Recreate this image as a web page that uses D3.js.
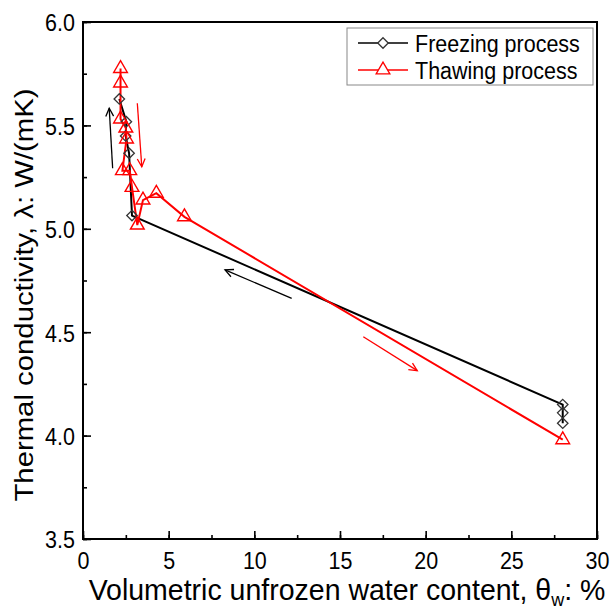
<!DOCTYPE html>
<html><head><meta charset="utf-8">
<script src="https://cdn.jsdelivr.net/npm/d3@7"></script>
<style>body{margin:0;background:#fff}svg{display:block}text{font-family:Arial,"Liberation Sans",sans-serif}</style>
</head><body><svg id="c" width="611" height="612"></svg>
<script>
const freezeX = [28, 28, 28, 2.86, 2.69, 2.49, 2.53, 2.12];
const freezeY = [4.06, 4.11, 4.15, 5.064, 5.365, 5.449, 5.518, 5.628];
const thawX = [2.19, 2.19, 2.19, 2.50, 2.54, 2.30, 2.73, 2.86, 3.17, 3.50, 4.28, 5.92, 28.0];
const thawY = [5.775, 5.705, 5.531, 5.487, 5.434, 5.281, 5.281, 5.20, 5.018, 5.139, 5.172, 5.058, 3.98];
const xTicks = [0, 5, 10, 15, 20, 25, 30];
const yTicks = [3.5, 4.0, 4.5, 5.0, 5.5, 6.0];
// arrows: [x1,y1,x2,y2] in data units, head at (x2,y2)
const arrowsBlack = [[1.73, 5.293, 1.53, 5.583], [12.18, 4.664, 8.29, 4.801]];
const arrowsRed = [[3.17, 5.607, 3.43, 5.300], [16.36, 4.478, 19.51, 4.314]];

const svg = d3.select("#c");
const L = 83, R = 597, T = 22, B = 539;
const SY = 1.15; // vertical text stretch seen in reference
const x = d3.scaleLinear().domain([0, 30]).range([L, R]);
const y = d3.scaleLinear().domain([3.5, 6]).range([B, T]);

const xMinor = d3.range(0, 30.01, 2.5);
const yMinor = d3.range(3.5, 6.01, 0.25);
const gx = svg.append("g").attr("transform", `translate(0,${B})`)
  .call(d3.axisBottom(x).tickValues(xMinor).tickSize(-4).tickFormat(""));
const gx2 = svg.append("g").attr("transform", `translate(0,${B})`)
  .call(d3.axisBottom(x).tickValues(xTicks).tickSize(-8).tickPadding(12).tickFormat(d3.format("d")));
const gy = svg.append("g").attr("transform", `translate(${L},0)`)
  .call(d3.axisLeft(y).tickValues(yMinor).tickSize(-4).tickFormat(""));
const gy2 = svg.append("g").attr("transform", `translate(${L},0)`)
  .call(d3.axisLeft(y).tickValues(yTicks).tickSize(-8).tickPadding(8).tickFormat(d3.format(".1f")));
[gx, gx2, gy, gy2].forEach(g => {
  g.select(".domain").remove();
  g.selectAll("line").attr("stroke", "#000").attr("stroke-width", 1.6);
  g.selectAll("text").attr("font-size", 21.5).attr("fill", "#000")
    .style("font-family", 'Arial,"Liberation Sans",sans-serif');
});
gx2.selectAll("text").each(function () {
  const t = d3.select(this); const yy = +t.attr("y");
  t.attr("y", 0).attr("dy", "0.71em").attr("transform", `translate(0,${yy}) scale(1,${SY})`);
});
gy2.selectAll("text").each(function () {
  const t = d3.select(this); const xx = +t.attr("x");
  t.attr("x", 0).attr("dy", "0.36em").attr("transform", `translate(${xx},0) scale(1,${SY})`);
});

// frame
svg.append("rect").attr("x", L).attr("y", T).attr("width", R - L).attr("height", B - T)
  .attr("fill", "none").attr("stroke", "#000").attr("stroke-width", 2);

// series lines
const line = d3.line().x(d => x(d[0])).y(d => y(d[1]));
const fPts = freezeX.map((v, i) => [v, freezeY[i]]);
const tPts = thawX.map((v, i) => [v, thawY[i]]);
svg.append("path").datum(fPts).attr("d", line).attr("fill", "none").attr("stroke", "#000").attr("stroke-width", 2);
svg.append("path").datum(tPts).attr("d", line).attr("fill", "none").attr("stroke", "#ff0000").attr("stroke-width", 2);

// markers
const diamond = d3.symbol().type(d3.symbolDiamond2).size(70);
const tri = d3.symbol().type(d3.symbolTriangle2).size(135);
svg.append("g").selectAll("path").data(fPts).join("path")
  .attr("d", diamond).attr("transform", d => `translate(${x(d[0])},${y(d[1])})`)
  .attr("fill", "none").attr("stroke", "#333").attr("stroke-width", 1.3);
svg.append("g").selectAll("path").data(tPts).join("path")
  .attr("d", tri).attr("transform", d => `translate(${x(d[0])},${y(d[1])})`)
  .attr("fill", "none").attr("stroke", "#ff0000").attr("stroke-width", 1.4);

// arrows
function drawArrow(a, color) {
  const x1 = x(a[0]), y1 = y(a[1]), x2 = x(a[2]), y2 = y(a[3]);
  const ang = Math.atan2(y2 - y1, x2 - x1);
  const h = 9, s = 0.45;
  svg.append("line").attr("x1", x1).attr("y1", y1).attr("x2", x2).attr("y2", y2)
    .attr("stroke", color).attr("stroke-width", 1.3);
  const p = `M${x2 - h * Math.cos(ang - s)},${y2 - h * Math.sin(ang - s)}L${x2},${y2}L${x2 - h * Math.cos(ang + s)},${y2 - h * Math.sin(ang + s)}`;
  svg.append("path").attr("d", p).attr("fill", "none").attr("stroke", color).attr("stroke-width", 1.3);
}
arrowsBlack.forEach(a => drawArrow(a, "#000"));
arrowsRed.forEach(a => drawArrow(a, "#ff0000"));

// legend
const lg = svg.append("g");
lg.append("rect").attr("x", 347).attr("y", 28).attr("width", 246).attr("height", 57)
  .attr("fill", "#fff").attr("stroke", "#888").attr("stroke-width", 1);
const legendItems = [
  {label: "Freezing process", color: "#000", sym: diamond, mstroke: "#333", yy: 43},
  {label: "Thawing process", color: "#ff0000", sym: tri, mstroke: "#ff0000", yy: 70}
];
legendItems.forEach(it => {
  lg.append("line").attr("x1", 358).attr("x2", 408).attr("y1", it.yy).attr("y2", it.yy)
    .attr("stroke", it.color).attr("stroke-width", 1.6);
  lg.append("path").attr("d", it.sym).attr("transform", `translate(383,${it.yy})`)
    .attr("fill", "#fff").attr("stroke", it.mstroke).attr("stroke-width", 1.3);
  lg.append("text").attr("transform", `translate(415,${it.yy}) scale(1,${SY})`).attr("dy", "0.36em")
    .attr("font-size", 21.5).attr("fill", "#000").text(it.label);
});

// axis titles
svg.append("text").attr("transform", `translate(33,295) rotate(-90) scale(${SY},1)`)
  .attr("text-anchor", "middle").attr("font-size", 25.5).attr("fill", "#000")
  .text("Thermal conductivity, λ: W/(mK)");
const xt = svg.append("text").attr("transform", `translate(${(L + R) / 2 + 7},600) scale(1,1.05)`)
  .attr("text-anchor", "middle").attr("font-size", 28.5).attr("fill", "#000");
xt.append("tspan").text("Volumetric unfrozen water content, θ");
xt.append("tspan").attr("dy", 6).attr("font-size", 18).text("w");
xt.append("tspan").attr("dy", -6).text(": %");
</script></body></html>
